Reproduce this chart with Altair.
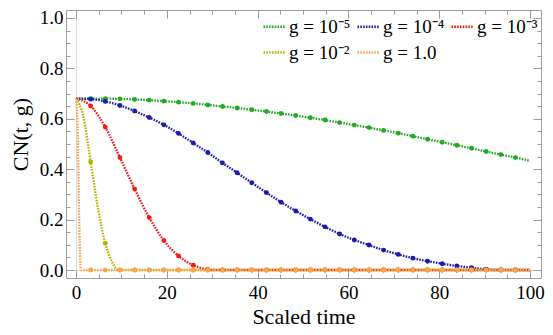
import altair as alt
import pandas as pd

# ---------------- data ----------------
marker_t = [3.23, 6.45, 9.68, 12.9, 16.13, 19.35, 22.58, 25.81, 29.03, 32.26,
            35.48, 38.71, 41.94, 45.16, 48.39, 51.61, 54.84, 58.06, 61.29, 64.52,
            67.74, 70.97, 74.19, 77.42, 80.65, 83.87, 87.1, 90.32, 93.55, 96.77]

green_v = [0.680, 0.680, 0.679, 0.677, 0.674, 0.670, 0.666, 0.661, 0.655, 0.649,
           0.643, 0.636, 0.629, 0.621, 0.613, 0.604, 0.595, 0.585, 0.575, 0.565,
           0.554, 0.543, 0.531, 0.519, 0.507, 0.495, 0.483, 0.470, 0.458, 0.446]
blue_v = [0.678, 0.669, 0.653, 0.631, 0.605, 0.576, 0.542, 0.504, 0.466, 0.425,
          0.386, 0.346, 0.307, 0.269, 0.234, 0.202, 0.171, 0.143, 0.119, 0.099,
          0.079, 0.062, 0.047, 0.035, 0.025, 0.016, 0.009, 0.003, 0.0, 0.0]
red_v = [0.651, 0.567, 0.446, 0.322, 0.208, 0.117, 0.056, 0.019, 0.002, 0.0,
         0.0, 0.0, 0.0, 0.0, 0.0, 0.0, 0.0, 0.0, 0.0, 0.0,
         0.0, 0.0, 0.0, 0.0, 0.0, 0.0, 0.0, 0.0, 0.0, 0.0]
yellow_v = [0.429, 0.106, 0.0, 0.0, 0.0, 0.0, 0.0, 0.0, 0.0, 0.0,
            0.0, 0.0, 0.0, 0.0, 0.0, 0.0, 0.0, 0.0, 0.0, 0.0,
            0.0, 0.0, 0.0, 0.0, 0.0, 0.0, 0.0, 0.0, 0.0, 0.0]
orange_v = [0.0] * 30

# extra points of the curves between markers (line only)
green_extra_t = [0.0, 100.0]
green_extra_v = [0.680, 0.433]
blue_extra_t = [0.0, 92.0, 100.0]
blue_extra_v = [0.680, 0.0, 0.0]
red_extra_t = [0.0, 29.6, 100.0]
red_extra_v = [0.680, 0.0, 0.0]
yellow_extra_t = [0.0, 1.6, 4.8, 8.0, 9.4, 100.0]
yellow_extra_v = [0.680, 0.610, 0.250, 0.030, 0.0, 0.0]
orange_extra_t = [0.0, 0.3, 0.6, 0.9, 1.1, 100.0]
orange_extra_v = [0.680, 0.600, 0.300, 0.060, 0.0, 0.0]

series_labels = ["g = 10\u207b\u2075", "g = 10\u207b\u2074", "g = 10\u207b\u00b3",
                 "g = 10\u207b\u00b2", "g = 1.0"]
series_colors = ["#22aa22", "#1c1caa", "#ee1c1c", "#b4b400", "#ffa24f"]
# legend fills column by column: this order shows rows (5,4,3) / (2, 1.0)
legend_order = [0, 3, 1, 4, 2]

x_major = [0, 20, 40, 60, 80, 100]
x_minor = [0, 5, 10, 15, 20, 25, 30, 35, 40, 45, 50, 55, 60, 65, 70, 75, 80, 85, 90, 95, 100]
y_major = [0.0, 0.2, 0.4, 0.6, 0.8, 1.0]
y_minor = [0.0, 0.05, 0.1, 0.15, 0.2, 0.25, 0.3, 0.35, 0.4, 0.45, 0.5,
           0.55, 0.6, 0.65, 0.7, 0.75, 0.8, 0.85, 0.9, 0.95, 1.0]

# ---------------- tables ----------------
marker_vals = [green_v, blue_v, red_v, yellow_v, orange_v]
extras = [(green_extra_t, green_extra_v), (blue_extra_t, blue_extra_v),
          (red_extra_t, red_extra_v), (yellow_extra_t, yellow_extra_v),
          (orange_extra_t, orange_extra_v)]

line_rows, pt_rows = [], []
for i, lab in enumerate(series_labels):
    pts = list(zip(marker_t, marker_vals[i])) + list(zip(*extras[i]))
    pts.sort(key=lambda p: p[0])
    for t, v in pts:
        line_rows.append({"t": t, "v": v, "series": lab, "idx": i})
    for t, v in zip(marker_t, marker_vals[i]):
        pt_rows.append({"t": t, "v": v, "series": lab, "idx": i})
lines_df = pd.DataFrame(line_rows)
pts_df = pd.DataFrame(pt_rows)

leg_domain = [series_labels[i] for i in legend_order]
leg_range = [series_colors[i] for i in legend_order]

FONT = "Liberation Serif"
TICK = "#9a9a9a"
xs = alt.Scale(domain=[-2.2, 102.4], nice=False, zero=False)
ys = alt.Scale(domain=[-0.0317, 1.0317], nice=False, zero=False)
grid0 = {"condition": {"test": "datum.value === 0", "value": 1}, "value": 0}


def xaxis(orient, values, size, labels=False, title=None, grid=False):
    kw = dict(orient=orient, values=values, tickSize=size, offset=-size, domain=False,
              tickColor=TICK, labels=labels, grid=grid, ticks=True)
    if grid:
        kw.update(gridColor="#dcdcdc", gridOpacity=grid0)
    if labels:
        kw.update(labelFont=FONT, labelFontSize=19, labelColor="black", labelPadding=5,
                  format="d")
    if title:
        kw.update(title=title, titleFont=FONT, titleFontSize=22, titleFontWeight="normal",
                  titleColor="black", titleY=46, titleBaseline="middle")
    else:
        kw.update(title=None)
    return alt.Axis(**kw)


def yaxis(orient, values, size, labels=False, title=None, grid=False):
    kw = dict(orient=orient, values=values, tickSize=size, offset=-size, domain=False,
              tickColor=TICK, labels=labels, grid=grid, ticks=True)
    if grid:
        kw.update(gridColor="#dcdcdc", gridOpacity=grid0)
    if labels:
        kw.update(labelFont=FONT, labelFontSize=19, labelColor="black", labelPadding=3,
                  format=".1f")
    if title:
        kw.update(title=title, titleFont=FONT, titleFontSize=22, titleFontWeight="normal",
                  titleColor="black", titleX=-54, titleY=124, titleBaseline="middle",
                  titleAngle=-90)
    else:
        kw.update(title=None)
    return alt.Axis(**kw)


legend = alt.Legend(orient="none", legendX=196, legendY=4, columns=3, title=None,
                    symbolType="stroke", symbolSize=484, symbolStrokeWidth=2.5,
                    symbolDash=[1.6, 1.2], labelFont=FONT, labelFontSize=19,
                    labelColor="black", columnPadding=1, rowPadding=3, labelOffset=2,
                    labelLimit=0)

lines = alt.Chart(lines_df).mark_line(strokeWidth=2.3, strokeDash=[1.6, 1.2],
                                      interpolate="monotone").encode(
    x=alt.X("t:Q", scale=xs, axis=xaxis("bottom", x_major, 8, labels=True,
                                         title="Scaled time", grid=True)),
    y=alt.Y("v:Q", scale=ys, axis=yaxis("left", y_major, 8, labels=True,
                                         title="CN(t, g)", grid=True)),
    color=alt.Color("series:N", scale=alt.Scale(domain=leg_domain, range=leg_range),
                    sort=leg_domain, legend=legend),
    detail=alt.Detail("idx:O"),
    order=alt.Order("t:Q"),
)

points = alt.Chart(pts_df).mark_circle(size=24, opacity=1).encode(
    x=alt.X("t:Q", scale=xs, axis=xaxis("bottom", x_minor, 4)),
    y=alt.Y("v:Q", scale=ys, axis=yaxis("left", y_minor, 4)),
    fill=alt.Fill("series:N", scale=alt.Scale(domain=series_labels, range=series_colors),
                  legend=None),
)

ghost1 = alt.Chart(pts_df).mark_circle(size=1, opacity=0).encode(
    x=alt.X("t:Q", scale=xs, axis=xaxis("top", x_major, 8)),
    y=alt.Y("v:Q", scale=ys, axis=yaxis("right", y_major, 8)),
)
ghost2 = alt.Chart(pts_df).mark_circle(size=1, opacity=0).encode(
    x=alt.X("t:Q", scale=xs, axis=xaxis("top", x_minor, 4)),
    y=alt.Y("v:Q", scale=ys, axis=yaxis("right", y_minor, 4)),
)

chart = alt.layer(lines, points, ghost1, ghost2).resolve_axis(
    x="independent", y="independent"
).properties(
    width=475, height=268,
    autosize=alt.AutoSizeParams(type="none"),
    padding={"left": 58, "top": 2, "right": 4, "bottom": 49},
    background="white",
).configure(font=FONT).configure_axis(labelFont=FONT, titleFont=FONT).configure_legend(
    labelFont=FONT
).configure_view(stroke="#a0a0a0", strokeWidth=1)

chart.save("out.html", embed_options={"renderer": "svg", "actions": False})
